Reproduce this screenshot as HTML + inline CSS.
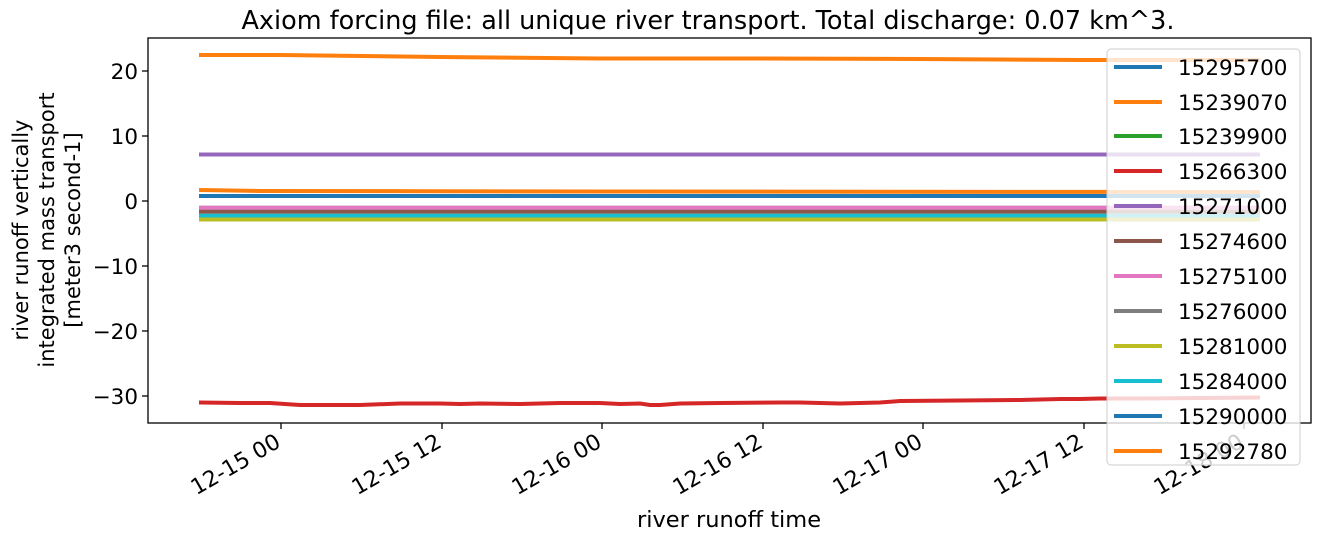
<!DOCTYPE html>
<html><head><meta charset="utf-8"><style>
html,body{margin:0;padding:0;background:#fff;}
svg{display:block;font-family:"DejaVu Sans","Liberation Sans",sans-serif;}
</style></head><body>
<svg width="1320" height="541" viewBox="0 0 1320 541" xmlns="http://www.w3.org/2000/svg">
<rect width="1320" height="541" fill="#fff"/>
<text x="708" y="29" font-size="25.5" text-anchor="middle">Axiom forcing file: all unique river transport. Total discharge: 0.07 km^3.</text>
<g stroke-width="4" fill="none" stroke-linecap="butt">
<polyline stroke="#ff7f0e" points="199,55 280,55 440,57 600,58.5 760,58.5 920,59 1080,60 1260,60"/>
<line x1="199" y1="154.5" x2="1260" y2="154.5" stroke="#9467bd"/>
<line x1="199" y1="207.7" x2="1260" y2="207.7" stroke="#7f7f7f"/>
<line x1="199" y1="219.5" x2="1260" y2="219.5" stroke="#2ca02c"/>
<polyline stroke="#ff7f0e" points="199,190 260,191 600,191.5 1260,192"/>
<line x1="199" y1="196" x2="1260" y2="196" stroke="#1f77b4"/>
<line x1="199" y1="207.7" x2="1260" y2="207.7" stroke="#e377c2"/>
<line x1="199" y1="211.7" x2="1260" y2="211.7" stroke="#8c564b"/>
<line x1="199" y1="215.7" x2="1260" y2="215.7" stroke="#17becf"/>
<line x1="199" y1="219.5" x2="1260" y2="219.5" stroke="#bcbd22"/>
<polyline stroke="#d62728" points="199,402.5 240,403 270,403 300,405 360,405 400,403.5 440,403.5 460,404 480,403.5 520,404 560,403 600,403 620,404 640,403.5 650,405 660,405 680,403.5 720,403 780,402.5 800,402.5 840,403.5 880,402.5 900,401 960,400.5 1020,400 1060,399 1080,399 1100,398.5 1140,398.5 1200,398 1260,397.5"/>
</g>
<rect x="148" y="38" width="1163" height="385" fill="none" stroke="#000" stroke-width="1.3"/>
<g stroke="#000" stroke-width="1.3">
<line x1="142" y1="71" x2="148" y2="71"/><line x1="142" y1="136" x2="148" y2="136"/><line x1="142" y1="201" x2="148" y2="201"/><line x1="142" y1="266" x2="148" y2="266"/><line x1="142" y1="331" x2="148" y2="331"/><line x1="142" y1="396" x2="148" y2="396"/>
<line x1="281" y1="423" x2="281" y2="429"/><line x1="442" y1="423" x2="442" y2="429"/><line x1="602" y1="423" x2="602" y2="429"/><line x1="763" y1="423" x2="763" y2="429"/><line x1="923" y1="423" x2="923" y2="429"/><line x1="1084" y1="423" x2="1084" y2="429"/><line x1="1244" y1="423" x2="1244" y2="429"/>
</g>
<g font-size="21.5" text-anchor="end">
<text x="138" y="79">20</text><text x="138" y="144">10</text><text x="138" y="209">0</text><text x="138" y="274">−10</text><text x="138" y="339">−20</text><text x="138" y="404">−30</text>
</g>
<g font-size="22" text-anchor="end">
<text transform="translate(282,446) rotate(-30)">12-15 00</text>
<text transform="translate(443,446) rotate(-30)">12-15 12</text>
<text transform="translate(603,446) rotate(-30)">12-16 00</text>
<text transform="translate(764,446) rotate(-30)">12-16 12</text>
<text transform="translate(924,446) rotate(-30)">12-17 00</text>
<text transform="translate(1085,446) rotate(-30)">12-17 12</text>
<text transform="translate(1245,446) rotate(-30)">12-18 00</text>
</g>
<text x="729" y="527" font-size="22.5" text-anchor="middle">river runoff time</text>
<g font-size="21" text-anchor="middle">
<text transform="translate(28,230) rotate(-90)">river runoff vertically</text>
<text transform="translate(54,230) rotate(-90)">integrated mass transport</text>
<text transform="translate(80,230) rotate(-90)">[meter3 second-1]</text>
</g>
<rect x="1107" y="49" width="193" height="416" rx="4" fill="#fff" fill-opacity="0.8" stroke="#ccc" stroke-width="1"/>
<g stroke-width="4">
<line x1="1114" x2="1162" y1="67" y2="67" stroke="#1f77b4"/>
<line x1="1114" x2="1162" y1="102" y2="102" stroke="#ff7f0e"/>
<line x1="1114" x2="1162" y1="136" y2="136" stroke="#2ca02c"/>
<line x1="1114" x2="1162" y1="171" y2="171" stroke="#d62728"/>
<line x1="1114" x2="1162" y1="206" y2="206" stroke="#9467bd"/>
<line x1="1114" x2="1162" y1="241" y2="241" stroke="#8c564b"/>
<line x1="1114" x2="1162" y1="276" y2="276" stroke="#e377c2"/>
<line x1="1114" x2="1162" y1="311" y2="311" stroke="#7f7f7f"/>
<line x1="1114" x2="1162" y1="346" y2="346" stroke="#bcbd22"/>
<line x1="1114" x2="1162" y1="381" y2="381" stroke="#17becf"/>
<line x1="1114" x2="1162" y1="416" y2="416" stroke="#1f77b4"/>
<line x1="1114" x2="1162" y1="451" y2="451" stroke="#ff7f0e"/>
</g>
<g font-size="21.5">
<text x="1178" y="75">15295700</text><text x="1178" y="110">15239070</text><text x="1178" y="144">15239900</text><text x="1178" y="179">15266300</text><text x="1178" y="214">15271000</text><text x="1178" y="249">15274600</text><text x="1178" y="284">15275100</text><text x="1178" y="319">15276000</text><text x="1178" y="354">15281000</text><text x="1178" y="389">15284000</text><text x="1178" y="424">15290000</text><text x="1178" y="459">15292780</text>
</g>
</svg>
</body></html>
